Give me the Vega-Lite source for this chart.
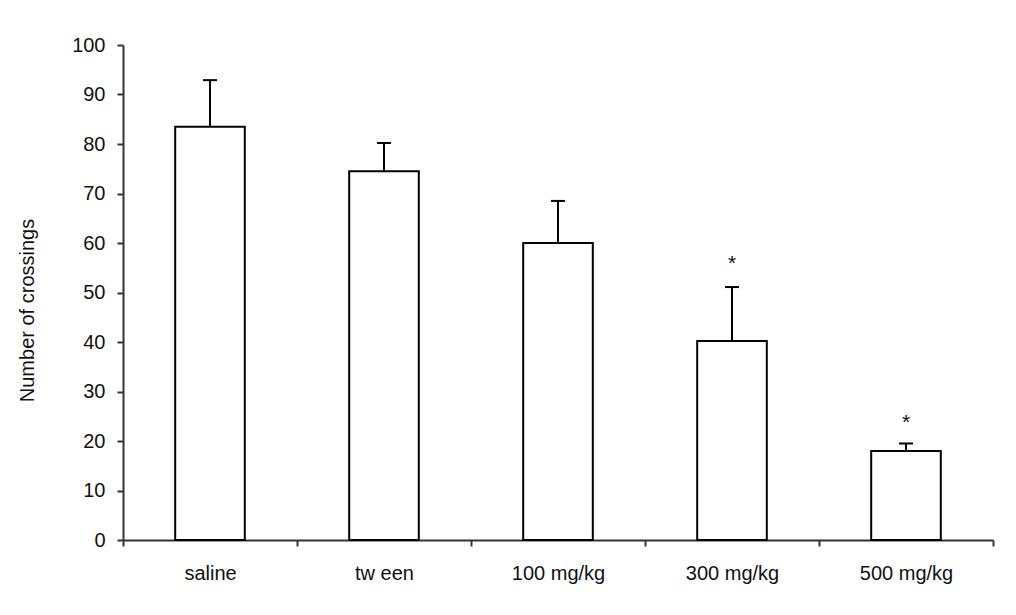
{
  "$schema": "https://vega.github.io/schema/vega-lite/v6.json",
  "autosize": "none",
  "width": 870,
  "height": 495,
  "padding": {"left": 123, "top": 45, "right": 23, "bottom": 75},
  "background": "white",
  "config": {
    "view": {"stroke": null},
    "font": "Liberation Sans"
  },
  "data": {
    "values": [
      {"group": "saline", "mean": 83.5, "upper": 92.9, "star": null},
      {"group": "tw een", "mean": 74.5, "upper": 80.2, "star": null},
      {"group": "100 mg/kg", "mean": 60.0, "upper": 68.5, "star": null},
      {"group": "300 mg/kg", "mean": 40.2, "upper": 51.1, "star": 55.8},
      {"group": "500 mg/kg", "mean": 18.0, "upper": 19.5, "star": 23.6}
    ]
  },
  "encoding": {
    "x": {
      "field": "group",
      "type": "nominal",
      "sort": null,
      "scale": {"paddingInner": 0, "paddingOuter": 0},
      "axis": {
        "title": null,
        "labelAngle": 0,
        "labelFontSize": 20,
        "labelColor": "#111",
        "labelPadding": 17,
        "tickBand": "extent",
        "tickSize": 6,
        "tickWidth": 2,
        "tickColor": "#333",
        "domainColor": "#333",
        "domainWidth": 2,
        "grid": false
      }
    }
  },
  "layer": [
    {
      "mark": {"type": "bar", "fill": "white", "stroke": "black", "strokeWidth": 2, "width": {"band": 0.4}},
      "encoding": {
        "y": {
          "field": "mean",
          "type": "quantitative",
          "scale": {"domain": [0, 100], "nice": false},
          "axis": {
            "title": "Number of crossings",
            "titleFontSize": 20,
            "titleFontWeight": "normal",
            "titleColor": "#111",
            "titleX": -86,
            "titleY": 265,
            "titleAngle": -90,
            "titleBaseline": "bottom",
            "values": [0, 10, 20, 30, 40, 50, 60, 70, 80, 90, 100],
            "labelFontSize": 20,
            "labelColor": "#111",
            "labelPadding": 12,
            "tickSize": 6,
            "tickWidth": 2,
            "tickColor": "#333",
            "domainColor": "#333",
            "domainWidth": 2,
            "grid": false
          }
        }
      }
    },
    {
      "mark": {"type": "rule", "stroke": "black", "strokeWidth": 2},
      "encoding": {
        "y": {"field": "mean", "type": "quantitative"},
        "y2": {"field": "upper"}
      }
    },
    {
      "mark": {"type": "tick", "color": "black", "thickness": 2, "size": 14, "opacity": 1},
      "encoding": {
        "y": {"field": "upper", "type": "quantitative"}
      }
    },
    {
      "transform": [{"filter": "datum.star != null"}],
      "mark": {"type": "text", "text": "*", "fontSize": 21, "baseline": "middle", "color": "#111"},
      "encoding": {
        "y": {"field": "star", "type": "quantitative"}
      }
    }
  ]
}
